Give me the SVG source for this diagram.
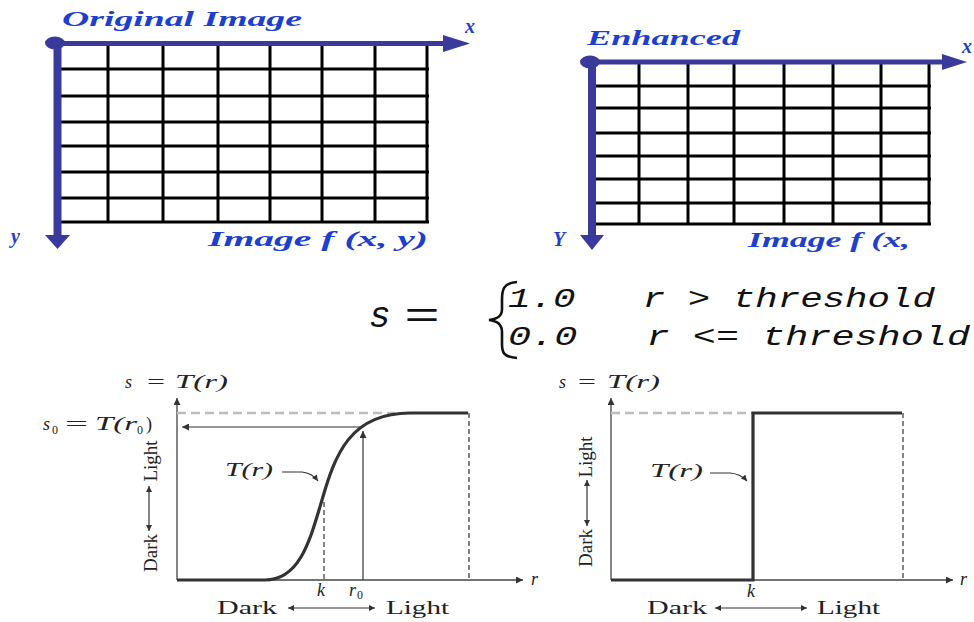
<svg xmlns="http://www.w3.org/2000/svg" width="974" height="622" viewBox="0 0 974 622">
<style>
.grid{stroke:#000;stroke-width:3;fill:none}
.blue{stroke:#3a3a9c;fill:none}
.bluef{fill:#3a3a9c}
.ttl{font-family:"Liberation Serif",serif;font-weight:bold;font-style:italic;fill:#1c3fd0;font-size:20px}
.ax{stroke:#444;stroke-width:1.3;fill:none}
.dg{stroke:#bdbdbd;stroke-width:2.5;stroke-dasharray:9 5;fill:none}
.dk{stroke:#333;stroke-width:1.2;stroke-dasharray:5 3;fill:none}
.crv{stroke:#333;stroke-width:3.2;fill:none}
.thin{stroke:#333;stroke-width:1.2;fill:none}
.lbl{font-family:"Liberation Serif",serif;font-size:18px;fill:#222}
.it{font-style:italic}
.sub{font-size:12px;font-style:normal}
.eq{font-family:"Liberation Mono",monospace;font-style:italic;font-size:28px;fill:#111}
</style>
<defs>
<marker id="ah" viewBox="0 0 10 10" refX="10" refY="5" markerWidth="10" markerHeight="7" markerUnits="userSpaceOnUse" orient="auto-start-reverse"><path d="M0,0 L10,5 L0,10 z" fill="#333"/></marker>
<marker id="ahs" viewBox="0 0 10 10" refX="10" refY="5" markerWidth="8" markerHeight="6" markerUnits="userSpaceOnUse" orient="auto-start-reverse"><path d="M0,0 L10,5 L0,10 z" fill="#333"/></marker>
</defs>

<g id="original-image">
<path class="grid" d="M60,69H429M60,96H429M60,122H429M60,146H429M60,172H429M60,198H429M60,222H429M108,44V223M163,44V223M218,44V223M270,44V223M322,44V223M375,44V223M427,44V223"/>
<text class="ttl" x="62" y="26" textLength="240" lengthAdjust="spacingAndGlyphs">Original Image</text>
<text class="ttl" x="465" y="33">x</text>
<text class="ttl" x="11" y="243">y</text>
<text class="ttl" x="208" y="246" textLength="220" lengthAdjust="spacingAndGlyphs">Image f (x, y)</text>
</g>

<g id="enhanced-image">
<path class="grid" d="M594,86H931M594,108H931M594,133H931M594,156H931M594,179H931M594,203H931M594,224H931M639,63V225M688,63V225M734,63V225M784,63V225M833,63V225M881,63V225M929,63V225"/>
<text class="ttl" x="587" y="45" textLength="153" lengthAdjust="spacingAndGlyphs">Enhanced</text>
<text class="ttl" x="962" y="53">x</text>
<text class="ttl" x="553" y="246">Y</text>
<text class="ttl" x="748" y="247" textLength="162" lengthAdjust="spacingAndGlyphs">Image f (x,</text>
</g>

<g id="connectors">
<line class="blue" x1="55" y1="43.5" x2="446" y2="43.5" stroke-width="5"/>
<polygon class="bluef" points="443,35 470,43.5 443,52"/>
<line class="blue" x1="57.5" y1="43" x2="57.5" y2="238" stroke-width="8"/>
<polygon class="bluef" points="45,235 70,235 57.5,249"/>
<ellipse class="bluef" cx="55" cy="43" rx="10" ry="6.5"/>
<line class="blue" x1="590" y1="62" x2="945" y2="62" stroke-width="5"/>
<polygon class="bluef" points="942,54 967,62 942,70"/>
<line class="blue" x1="592" y1="62" x2="592" y2="238" stroke-width="8"/>
<polygon class="bluef" points="580,235 604,235 592,250"/>
<ellipse class="bluef" cx="590" cy="62" rx="10" ry="6.5"/>
</g>

<g id="equation">
<text class="eq" x="369" y="327" style="font-size:36px">s</text>
<text class="eq" x="404" y="327" style="font-size:36px;font-style:normal" textLength="36" lengthAdjust="spacingAndGlyphs">=</text>
<path d="M517,282 C503,283 502,290 502,300 L502,309 C502,316 498,319 489,320 C498,321 502,325 502,332 L502,344 C502,352 503,357 517,358" stroke="#111" stroke-width="2.6" fill="none"/>
<text class="eq" x="508" y="307" textLength="427" lengthAdjust="spacingAndGlyphs" xml:space="preserve">1.0   r &gt; threshold</text>
<text class="eq" x="508" y="345" textLength="462" lengthAdjust="spacingAndGlyphs" xml:space="preserve">0.0   r &lt;= threshold</text>
</g>

<g id="graph-sigmoid">
<line class="ax" x1="177" y1="580" x2="177" y2="398" marker-end="url(#ah)"/>
<line class="ax" x1="177" y1="580" x2="523" y2="580" marker-end="url(#ah)"/>
<line class="dg" x1="177" y1="413" x2="395" y2="413"/>
<line class="dk" x1="469" y1="413" x2="469" y2="580"/>
<line class="dk" x1="324" y1="502" x2="324" y2="580"/>
<line class="thin" x1="362" y1="427" x2="182" y2="427" marker-end="url(#ah)"/>
<line class="thin" x1="363" y1="580" x2="363" y2="431" marker-end="url(#ah)"/>
<path class="crv" d="M177,580 L265,580 C300,580 310,540 322,500 C335,455 350,413 410,413 L468,413"/>
<path class="thin" d="M282,472 L302,472 Q312,473 318,481" marker-end="url(#ahs)"/>
<text class="lbl it" x="125" y="388">s</text>
<text class="lbl" x="147" y="388" textLength="18" lengthAdjust="spacingAndGlyphs">=</text>
<text class="lbl it" x="175" y="388" textLength="53" lengthAdjust="spacingAndGlyphs">T(r)</text>
<text class="lbl it" x="43" y="430">s</text>
<text class="lbl sub" x="52" y="434">0</text>
<text class="lbl" x="65" y="430" textLength="23" lengthAdjust="spacingAndGlyphs">=</text>
<text class="lbl it" x="95" y="430" textLength="42" lengthAdjust="spacingAndGlyphs">T(r</text>
<text class="lbl sub" x="137" y="434">0</text>
<text class="lbl" x="146" y="430">)</text>
<text class="lbl it" x="225" y="476" textLength="48" lengthAdjust="spacingAndGlyphs">T(r)</text>
<text class="lbl" style="font-size:19px" transform="translate(157,461) rotate(-90)" text-anchor="middle">Light</text>
<text class="lbl" style="font-size:19px" transform="translate(157,553) rotate(-90)" text-anchor="middle">Dark</text>
<line class="thin" x1="149" y1="486" x2="149" y2="531" marker-start="url(#ahs)" marker-end="url(#ahs)"/>
<text class="lbl it" x="317" y="596">k</text>
<text class="lbl it" x="349" y="596">r</text>
<text class="lbl sub" x="357" y="599">0</text>
<text class="lbl it" x="531" y="585">r</text>
<text class="lbl" x="217" y="614" textLength="60" lengthAdjust="spacingAndGlyphs">Dark</text>
<line class="thin" x1="288" y1="608" x2="375" y2="608" marker-start="url(#ahs)" marker-end="url(#ahs)"/>
<text class="lbl" x="386" y="614" textLength="63" lengthAdjust="spacingAndGlyphs">Light</text>
</g>

<g id="graph-step">
<line class="ax" x1="611" y1="580" x2="611" y2="398" marker-end="url(#ah)"/>
<line class="ax" x1="611" y1="580" x2="953" y2="580" marker-end="url(#ah)"/>
<line class="dg" x1="611" y1="413" x2="752" y2="413"/>
<line class="dk" x1="903" y1="413" x2="903" y2="580"/>
<path class="crv" d="M611,580 L753,580 L753,413 L902,413" stroke-width="3.5"/>
<path class="thin" d="M710,473 L730,473 Q741,474 747,481" marker-end="url(#ahs)"/>
<text class="lbl it" x="559" y="388">s</text>
<text class="lbl" x="578" y="388" textLength="18" lengthAdjust="spacingAndGlyphs">=</text>
<text class="lbl it" x="607" y="388" textLength="53" lengthAdjust="spacingAndGlyphs">T(r)</text>
<text class="lbl it" x="650" y="477" textLength="53" lengthAdjust="spacingAndGlyphs">T(r)</text>
<text class="lbl" style="font-size:19px" transform="translate(592,457) rotate(-90)" text-anchor="middle">Light</text>
<text class="lbl" style="font-size:19px" transform="translate(592,548) rotate(-90)" text-anchor="middle">Dark</text>
<line class="thin" x1="587" y1="480" x2="587" y2="526" marker-start="url(#ahs)" marker-end="url(#ahs)"/>
<text class="lbl it" x="747" y="597">k</text>
<text class="lbl it" x="960" y="585">r</text>
<text class="lbl" x="647" y="614" textLength="60" lengthAdjust="spacingAndGlyphs">Dark</text>
<line class="thin" x1="715" y1="608" x2="807" y2="608" marker-start="url(#ahs)" marker-end="url(#ahs)"/>
<text class="lbl" x="817" y="614" textLength="63" lengthAdjust="spacingAndGlyphs">Light</text>
</g>
</svg>
